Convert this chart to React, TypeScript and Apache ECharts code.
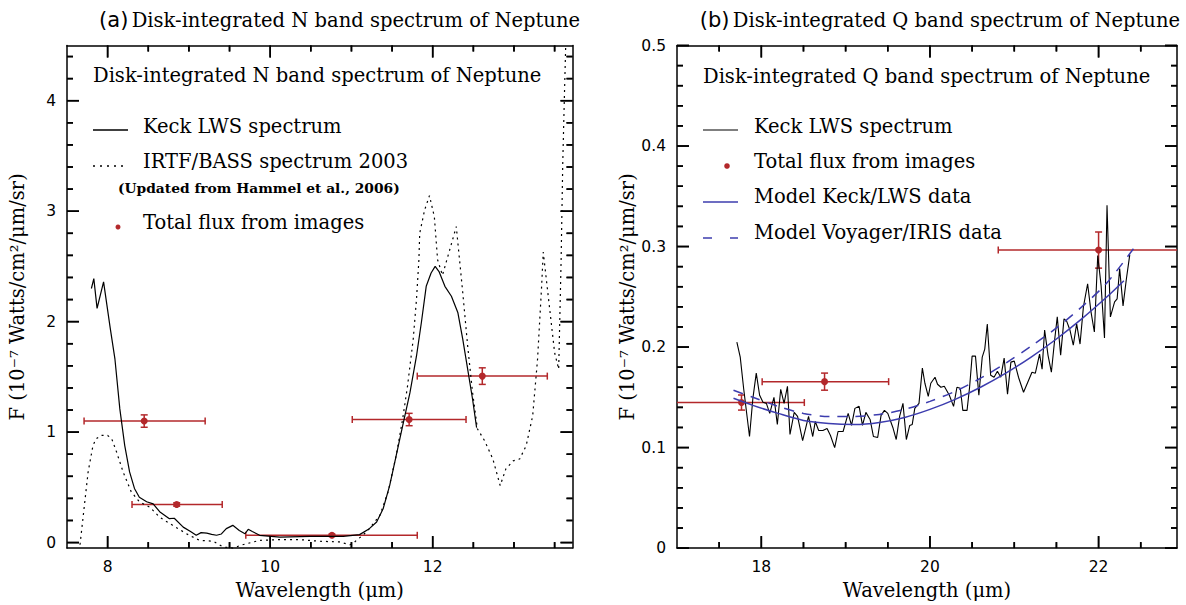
import React, { useEffect, useRef } from "react";
import * as echarts from "echarts";

const SERIF = "'DejaVu Serif', 'Liberation Serif', serif";
const SANS = "'DejaVu Sans', 'Liberation Sans', Arial, sans-serif";
const RED = "#b3282b";
const BLUE = "#3c3cae";
const FS = 19.5;

// ---------- Panel (a): N band ----------
const keckN_x = [7.80, 7.83, 7.87, 7.95, 8.03, 8.09, 8.15, 8.21, 8.27, 8.33, 8.39, 8.48, 8.56, 8.64, 8.76, 8.82, 8.93, 9.02, 9.09, 9.15, 9.22, 9.28, 9.34, 9.40, 9.46, 9.54, 9.62, 9.69, 9.73, 9.78, 9.87, 10.12, 10.49, 10.90, 11.10, 11.22, 11.31, 11.39, 11.47, 11.55, 11.63, 11.72, 11.80, 11.86, 11.92, 11.98, 12.03, 12.08, 12.15, 12.23, 12.31, 12.37, 12.43, 12.49, 12.54];
const keckN_y = [2.30, 2.39, 2.12, 2.36, 1.95, 1.66, 1.21, 0.88, 0.64, 0.49, 0.41, 0.37, 0.35, 0.28, 0.216, 0.22, 0.14, 0.10, 0.066, 0.09, 0.085, 0.075, 0.066, 0.078, 0.126, 0.156, 0.11, 0.08, 0.12, 0.10, 0.066, 0.05, 0.057, 0.057, 0.072, 0.126, 0.186, 0.306, 0.516, 0.786, 1.057, 1.357, 1.687, 1.99, 2.32, 2.44, 2.50, 2.45, 2.32, 2.23, 2.08, 1.84, 1.57, 1.30, 1.04];

const irtf_x = [7.66, 7.76, 7.82, 7.86, 7.92, 8.00, 8.05, 8.11, 8.19, 8.29, 8.39, 8.52, 8.64, 8.80, 8.97, 9.13, 9.30, 9.42, 9.54, 9.66, 9.87, 10.12, 10.36, 10.61, 10.85, 10.98, 11.02, 11.06, 11.14, 11.22, 11.35, 11.45, 11.55, 11.63, 11.69, 11.76, 11.80, 11.83, 11.84, 11.90, 11.96, 12.02, 12.06, 12.12, 12.29, 12.33, 12.37, 12.43, 12.49, 12.55, 12.64, 12.74, 12.83, 12.90, 12.99, 13.07, 13.15, 13.23, 13.29, 13.34, 13.36, 13.44, 13.50, 13.55, 13.58, 13.60, 13.62, 13.64];
const irtf_y = [-0.02, 0.64, 0.88, 0.94, 0.97, 0.97, 0.94, 0.82, 0.64, 0.46, 0.37, 0.32, 0.23, 0.156, 0.08, 0.02, 0.012, -0.04, -0.05, -0.02, 0.02, 0.027, 0.027, 0.012, 0.006, -0.02, -0.01, 0.02, 0.066, 0.126, 0.246, 0.457, 0.786, 1.117, 1.417, 1.84, 2.20, 2.56, 2.80, 3.01, 3.14, 2.95, 2.56, 2.42, 2.86, 2.56, 2.26, 1.78, 1.36, 1.03, 0.92, 0.757, 0.516, 0.667, 0.74, 0.757, 0.877, 1.147, 1.66, 2.32, 2.63, 2.11, 1.72, 1.57, 2.56, 3.43, 4.03, 4.6];

const imgN_x = [8.45, 8.85, 10.76, 11.71, 12.61];
const imgN_y = [1.10, 0.345, 0.066, 1.114, 1.507];
const imgN_xlo = [7.71, 8.30, 9.70, 11.01, 11.81];
const imgN_xhi = [9.20, 9.41, 11.81, 12.41, 13.41];
const imgN_yerr = [0.056, 0.015, 0.01, 0.056, 0.075];

const N_X_MAJOR = [8, 10, 12];
const N_X_MINOR = [8.5, 9, 9.5, 10.5, 11, 11.5, 12.5, 13, 13.5];
const N_Y_MAJOR = [0, 1, 2, 3, 4];
const N_Y_MINOR = [0.2, 0.4, 0.6, 0.8, 1.2, 1.4, 1.6, 1.8, 2.2, 2.4, 2.6, 2.8, 3.2, 3.4, 3.6, 3.8, 4.2, 4.4];

// ---------- Panel (b): Q band ----------
const keckQ_x = [17.71, 17.75, 17.79, 17.86, 17.90, 17.94, 17.98, 18.02, 18.06, 18.10, 18.15, 18.19, 18.23, 18.27, 18.31, 18.34, 18.39, 18.43, 18.49, 18.56, 18.61, 18.64, 18.68, 18.73, 18.78, 18.82, 18.87, 18.91, 18.97, 19.03, 19.07, 19.11, 19.16, 19.20, 19.24, 19.29, 19.33, 19.38, 19.42, 19.46, 19.50, 19.56, 19.60, 19.64, 19.68, 19.72, 19.76, 19.79, 19.82, 19.87, 19.91, 19.94, 19.98, 20.01, 20.06, 20.09, 20.13, 20.17, 20.23, 20.28, 20.32, 20.36, 20.39, 20.44, 20.47, 20.50, 20.54, 20.58, 20.62, 20.65, 20.68, 20.72, 20.76, 20.80, 20.84, 20.88, 20.92, 20.96, 21.00, 21.05, 21.11, 21.16, 21.21, 21.25, 21.30, 21.33, 21.36, 21.40, 21.44, 21.48, 21.51, 21.55, 21.59, 21.62, 21.66, 21.70, 21.74, 21.78, 21.82, 21.87, 21.91, 21.95, 21.99, 22.03, 22.07, 22.10, 22.14, 22.19, 22.22, 22.25, 22.29, 22.33, 22.37];
const keckQ_y = [0.205, 0.190, 0.159, 0.111, 0.149, 0.174, 0.152, 0.145, 0.144, 0.134, 0.150, 0.123, 0.158, 0.144, 0.161, 0.113, 0.135, 0.131, 0.107, 0.131, 0.111, 0.126, 0.117, 0.117, 0.119, 0.112, 0.100, 0.116, 0.116, 0.134, 0.122, 0.139, 0.141, 0.122, 0.135, 0.128, 0.111, 0.110, 0.132, 0.137, 0.134, 0.120, 0.108, 0.131, 0.144, 0.108, 0.122, 0.123, 0.139, 0.144, 0.179, 0.164, 0.151, 0.164, 0.170, 0.163, 0.160, 0.161, 0.152, 0.141, 0.160, 0.159, 0.137, 0.137, 0.160, 0.191, 0.191, 0.152, 0.190, 0.198, 0.223, 0.172, 0.170, 0.176, 0.170, 0.189, 0.153, 0.185, 0.186, 0.170, 0.155, 0.165, 0.175, 0.174, 0.193, 0.178, 0.217, 0.192, 0.175, 0.208, 0.230, 0.192, 0.228, 0.226, 0.217, 0.202, 0.223, 0.203, 0.240, 0.263, 0.235, 0.215, 0.291, 0.261, 0.209, 0.341, 0.230, 0.245, 0.248, 0.278, 0.241, 0.268, 0.292];

const modelKeck_x = [17.67, 17.9, 18.2, 18.5, 18.8, 19.1, 19.4, 19.7, 20.0, 20.3, 20.6, 20.9, 21.2, 21.5, 21.8, 22.1, 22.3];
const modelKeck_y = [0.149, 0.142, 0.134, 0.127, 0.124, 0.123, 0.125, 0.130, 0.138, 0.148, 0.160, 0.174, 0.190, 0.208, 0.228, 0.250, 0.266];
const modelIris_x = [17.67, 17.9, 18.2, 18.5, 18.8, 19.1, 19.4, 19.7, 20.0, 20.3, 20.6, 20.9, 21.2, 21.5, 21.8, 22.1, 22.45];
const modelIris_y = [0.157, 0.150, 0.141, 0.134, 0.131, 0.131, 0.133, 0.138, 0.146, 0.156, 0.169, 0.184, 0.201, 0.219, 0.240, 0.264, 0.302];

const imgQ_x = [17.765, 18.75, 22.0];
const imgQ_y = [0.1448, 0.1656, 0.2965];
const imgQ_xlo = [16.9, 18.01, 20.81];
const imgQ_xhi = [18.51, 19.51, 23.1];
const imgQ_yerr = [0.0075, 0.0085, 0.018];

const Q_X_MAJOR = [18, 20, 22];
const Q_X_MINOR = [17.5, 18.5, 19, 19.5, 20.5, 21, 21.5, 22.5];
const Q_Y_MAJOR = [0, 0.1, 0.2, 0.3, 0.4, 0.5];
const Q_Y_MINOR = [0.02, 0.04, 0.06, 0.08, 0.12, 0.14, 0.16, 0.18, 0.22, 0.24, 0.26, 0.28, 0.32, 0.34, 0.36, 0.38, 0.42, 0.44, 0.46, 0.48];

const N_X_RANGE = [7.5, 13.72];
const N_Y_RANGE = [-0.05, 4.5];
const Q_X_RANGE = [17, 22.93];
const Q_Y_RANGE = [0, 0.5];

const Y_NAME = "F (10⁻⁷ Watts/cm²/μm/sr)";
const X_NAME = "Wavelength (μm)";

const zip = (xs: number[], ys: number[]) => xs.map((x, i) => [x, ys[i]]);
const bars = (x: number[], y: number[], lo: number[], hi: number[], e: number[]) =>
  x.map((v, i) => [v, y[i], lo[i], hi[i], e[i]]);
// one item per tick and side, placed strictly inside the plot: [x, y, side, length]
const tickItems = (xr: number[], yr: number[], xMaj: number[], xMin: number[], yMaj: number[], yMin: number[]) => {
  const xm = (xr[0] + xr[1]) / 2;
  const ym = (yr[0] + yr[1]) / 2;
  const out: number[][] = [];
  xMaj.forEach((v) => { out.push([v, ym, 0, 12]); out.push([v, ym, 1, 12]); });
  xMin.forEach((v) => { out.push([v, ym, 0, 6]); out.push([v, ym, 1, 6]); });
  yMaj.forEach((v) => { out.push([xm, v, 2, 12]); out.push([xm, v, 3, 12]); });
  yMin.forEach((v) => { out.push([xm, v, 2, 6]); out.push([xm, v, 3, 6]); });
  return out;
};

function buildAxes(g: number, xr: number[], yr: number[], xMaj: number[], yMaj: number[], yGap: number) {
  const line = { show: true, onZero: false, lineStyle: { color: "#000", width: 1.5 } };
  const cx = { type: "value", gridIndex: g, min: xr[0], max: xr[1], splitLine: { show: false }, axisTick: { show: false } };
  const cy = { type: "value", gridIndex: g, min: yr[0], max: yr[1], splitLine: { show: false }, axisTick: { show: false } };
  const label = (vals: number[]) => ({ show: true, customValues: vals, margin: 11, color: "#000", fontFamily: SANS, fontSize: 15.5 });
  const xAxes = [
    { ...cx, position: "bottom", axisLine: line, axisLabel: label(xMaj), name: X_NAME, nameLocation: "middle", nameGap: 31, nameTextStyle: { fontFamily: SERIF, fontSize: FS, color: "#000" } },
    { ...cx, position: "top", axisLine: line, axisLabel: { show: false } },
  ];
  const yAxes = [
    { ...cy, position: "left", axisLine: line, axisLabel: label(yMaj), name: Y_NAME, nameLocation: "middle", nameGap: yGap, nameTextStyle: { fontFamily: SERIF, fontSize: FS, color: "#000" } },
    { ...cy, position: "right", axisLine: line, axisLabel: { show: false } },
  ];
  return { xAxes, yAxes };
}

function tickRender(params: any, api: any) {
  const p = api.coord([api.value(0), api.value(1)]);
  const side = api.value(2);
  const len = api.value(3);
  const cs = params.coordSys;
  const st = { stroke: "#000", lineWidth: 1.6 };
  const yb = cs.y + cs.height;
  const xr = cs.x + cs.width;
  let shape;
  if (side === 0) shape = { x1: p[0], y1: yb, x2: p[0], y2: yb - len };
  else if (side === 1) shape = { x1: p[0], y1: cs.y, x2: p[0], y2: cs.y + len };
  else if (side === 2) shape = { x1: cs.x, y1: p[1], x2: cs.x + len, y2: p[1] };
  else shape = { x1: xr, y1: p[1], x2: xr - len, y2: p[1] };
  return { type: "line", shape, style: st };
}

function errorRender(params: any, api: any) {
  const x = api.value(0), y = api.value(1), lo = api.value(2), hi = api.value(3), e = api.value(4);
  const c = api.coord([x, y]);
  const l = api.coord([lo, y]);
  const r = api.coord([hi, y]);
  const t = api.coord([x, y + e]);
  const b = api.coord([x, y - e]);
  const cap = 3.5;
  const st = { stroke: RED, lineWidth: 1.5, fill: null };
  return {
    type: "group",
    children: [
      { type: "line", shape: { x1: l[0], y1: l[1], x2: r[0], y2: r[1] }, style: st },
      { type: "line", shape: { x1: l[0], y1: l[1] - cap, x2: l[0], y2: l[1] + cap }, style: st },
      { type: "line", shape: { x1: r[0], y1: r[1] - cap, x2: r[0], y2: r[1] + cap }, style: st },
      { type: "line", shape: { x1: t[0], y1: t[1], x2: b[0], y2: b[1] }, style: st },
      { type: "line", shape: { x1: t[0] - cap, y1: t[1], x2: t[0] + cap, y2: t[1] }, style: st },
      { type: "line", shape: { x1: b[0] - cap, y1: b[1], x2: b[0] + cap, y2: b[1] }, style: st },
      { type: "circle", shape: { cx: c[0], cy: c[1], r: 3.5 }, style: { fill: RED, stroke: null } },
    ],
  };
}

function txt(x: number, y: number, text: string, size = FS, extra: any = {}) {
  return { type: "text", x, y, style: { text, fontFamily: SERIF, fontSize: size, fill: "#000", verticalAlign: "middle", align: "left", ...extra } };
}
function seg(x1: number, y1: number, x2: number, y2: number, color: string, dash: any = null, w = 1.3) {
  return { type: "line", shape: { x1, y1, x2, y2 }, style: { stroke: color, lineWidth: w, lineDash: dash } };
}

function tickGraphics(chart: any, gi: number, xr: number[], yr: number[], xMaj: number[], xMin: number[], yMaj: number[], yMin: number[]) {
  const out: any[] = [];
  const finder = { xAxisIndex: gi * 2, yAxisIndex: gi * 2 };
  const bl = chart.convertToPixel(finder, [xr[0], yr[0]]);
  const tr = chart.convertToPixel(finder, [xr[1], yr[1]]);
  const xm = (xr[0] + xr[1]) / 2;
  const ym = (yr[0] + yr[1]) / 2;
  const addX = (vals: number[], len: number) => vals.forEach((v) => {
    const px = chart.convertToPixel(finder, [v, ym])[0];
    out.push(seg(px, bl[1], px, bl[1] - len, "#000", null, 1.6));
    out.push(seg(px, tr[1], px, tr[1] + len, "#000", null, 1.6));
  });
  const addY = (vals: number[], len: number) => vals.forEach((v) => {
    const py = chart.convertToPixel(finder, [xm, v])[1];
    out.push(seg(bl[0], py, bl[0] + len, py, "#000", null, 1.6));
    out.push(seg(tr[0], py, tr[0] - len, py, "#000", null, 1.6));
  });
  addX(xMaj, 12);
  addX(xMin, 6);
  addY(yMaj, 12);
  addY(yMin, 6);
  return out;
}

export default function App() {
  const ref = useRef<HTMLDivElement>(null);
  useEffect(() => {
    document.body.style.margin = "0";
    const chart = echarts.init(ref.current!, null, { renderer: "svg" });
    const a = buildAxes(0, N_X_RANGE, N_Y_RANGE, N_X_MAJOR, N_Y_MAJOR, 40);
    const b = buildAxes(1, Q_X_RANGE, Q_Y_RANGE, Q_X_MAJOR, Q_Y_MAJOR, 39);
    const baseGraphics: any[] = [
      {
        type: "text", x: 580, y: 20,
        style: { text: "{a|(a)} {t|Disk-integrated N band spectrum of Neptune}", align: "right", verticalAlign: "middle", rich: { a: { fontFamily: SANS, fontSize: 21, fill: "#000" }, t: { fontFamily: SERIF, fontSize: FS, fill: "#000" } } },
      },
      {
        type: "text", x: 1180, y: 20,
        style: { text: "{a|(b)} {t|Disk-integrated Q band spectrum of Neptune}", align: "right", verticalAlign: "middle", rich: { a: { fontFamily: SANS, fontSize: 21, fill: "#000" }, t: { fontFamily: SERIF, fontSize: FS, fill: "#000" } } },
      },
      txt(93, 75, "Disk-integrated N band spectrum of Neptune"),
      seg(93, 130, 128, 130, "#000"),
      txt(143, 126, "Keck LWS spectrum"),
      seg(93, 166, 125, 166, "#000", [2, 5]),
      txt(143, 161, "IRTF/BASS spectrum 2003"),
      txt(118, 188, "(Updated from Hammel et al., 2006)", 13.8, { fontWeight: "bold" }),
      { type: "circle", shape: { cx: 118, cy: 227, r: 2.5 }, style: { fill: RED } },
      txt(143, 222, "Total flux from images"),

      txt(703, 76, "Disk-integrated Q band spectrum of Neptune"),
      seg(703, 130, 738, 130, "#000", null, 1.1),
      txt(754, 126, "Keck LWS spectrum"),
      { type: "circle", shape: { cx: 727, cy: 166, r: 2.8 }, style: { fill: RED } },
      txt(754, 161, "Total flux from images"),
      seg(703, 202, 738, 202, BLUE, null, 1.5),
      txt(754, 196, "Model Keck/LWS data"),
      seg(703, 238, 712, 238, BLUE, null, 1.5),
      seg(730, 238, 738, 238, BLUE, null, 1.5),
      txt(754, 232, "Model Voyager/IRIS data"),
    ];
    const option: any = {
      animation: false,
      grid: [
        { left: 67, top: 45.5, width: 505.5, height: 504.5 },
        { left: 677, top: 45.5, width: 500, height: 504.5 },
      ],
      xAxis: [...a.xAxes, ...b.xAxes],
      yAxis: [...a.yAxes, ...b.yAxes],
      series: [
        { type: "custom", xAxisIndex: 0, yAxisIndex: 0, data: tickItems(N_X_RANGE, N_Y_RANGE, N_X_MAJOR, N_X_MINOR, N_Y_MAJOR, N_Y_MINOR), encode: { x: 0, y: 1 }, renderItem: tickRender },
        { name: "IRTF/BASS spectrum 2003", type: "line", xAxisIndex: 0, yAxisIndex: 0, data: zip(irtf_x, irtf_y), showSymbol: false, clip: true, lineStyle: { color: "#000", width: 1.2, type: [2, 4] } },
        { name: "Keck LWS spectrum", type: "line", xAxisIndex: 0, yAxisIndex: 0, data: zip(keckN_x, keckN_y), showSymbol: false, clip: true, lineStyle: { color: "#000", width: 1.2 } },
        { name: "Total flux from images", type: "custom", xAxisIndex: 0, yAxisIndex: 0, data: bars(imgN_x, imgN_y, imgN_xlo, imgN_xhi, imgN_yerr), encode: { x: 0, y: 1 }, clip: true, renderItem: errorRender },
        { type: "custom", xAxisIndex: 2, yAxisIndex: 2, data: tickItems(Q_X_RANGE, Q_Y_RANGE, Q_X_MAJOR, Q_X_MINOR, Q_Y_MAJOR, Q_Y_MINOR), encode: { x: 0, y: 1 }, renderItem: tickRender },
        { name: "Keck LWS spectrum Q", type: "line", xAxisIndex: 2, yAxisIndex: 2, data: zip(keckQ_x, keckQ_y), showSymbol: false, clip: true, lineStyle: { color: "#000", width: 1.1 } },
        { name: "Model Keck/LWS data", type: "line", xAxisIndex: 2, yAxisIndex: 2, data: zip(modelKeck_x, modelKeck_y), showSymbol: false, smooth: 0.3, clip: true, lineStyle: { color: BLUE, width: 1.5 } },
        { name: "Model Voyager/IRIS data", type: "line", xAxisIndex: 2, yAxisIndex: 2, data: zip(modelIris_x, modelIris_y), showSymbol: false, smooth: 0.3, clip: true, lineStyle: { color: BLUE, width: 1.5, type: [10, 8] } },
        { name: "Total flux from images Q", type: "custom", xAxisIndex: 2, yAxisIndex: 2, data: bars(imgQ_x, imgQ_y, imgQ_xlo, imgQ_xhi, imgQ_yerr), encode: { x: 0, y: 1 }, clip: true, renderItem: errorRender },
      ],
      graphic: baseGraphics,
    };
    chart.setOption(option);
    try {
      const ticks = [
        ...tickGraphics(chart, 0, N_X_RANGE, N_Y_RANGE, N_X_MAJOR, N_X_MINOR, N_Y_MAJOR, N_Y_MINOR),
        ...tickGraphics(chart, 1, Q_X_RANGE, Q_Y_RANGE, Q_X_MAJOR, Q_X_MINOR, Q_Y_MAJOR, Q_Y_MINOR),
      ];
      chart.setOption({ graphic: [...baseGraphics, ...ticks] });
    } catch (e) {
      // keep the chart as drawn by the custom tick series
    }
    return () => chart.dispose();
  }, []);
  return <div ref={ref} style={{ width: 1186, height: 605 }} />;
}
